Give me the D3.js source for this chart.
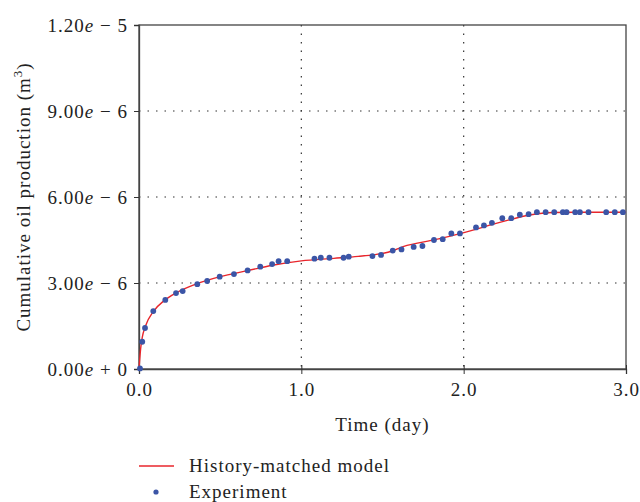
<!DOCTYPE html>
<html>
<head>
<meta charset="utf-8">
<script src="https://cdn.jsdelivr.net/npm/d3@7"></script>
<style>
  body { margin: 0; background: #fff; }
  text { font-family: "Liberation Serif", "DejaVu Serif", serif; fill: #222; letter-spacing: 1px; }
</style>
</head>
<body>
<svg width="640" height="502"></svg>
<script>
// experiment points (time in days, volume in m3 x 1e-6)
var expTime = [0.006, 0.02, 0.037, 0.088, 0.162, 0.228, 0.269, 0.359, 0.42, 0.497, 0.585, 0.669, 0.747, 0.82, 0.86, 0.913,
  1.081, 1.12, 1.173, 1.26, 1.292, 1.438, 1.491, 1.563, 1.617, 1.692, 1.746, 1.817, 1.871, 1.924, 1.977,
  2.076, 2.125, 2.174, 2.238, 2.293, 2.346, 2.40, 2.451, 2.505, 2.558, 2.611, 2.634, 2.687, 2.716, 2.769, 2.878, 2.931, 2.981];
var expVol = [0.02, 0.95, 1.43, 2.02, 2.41, 2.65, 2.72, 2.96, 3.07, 3.22, 3.31, 3.44, 3.57, 3.66, 3.76, 3.76,
  3.85, 3.88, 3.88, 3.88, 3.92, 3.94, 3.98, 4.13, 4.17, 4.26, 4.29, 4.50, 4.53, 4.73, 4.73,
  4.94, 5.01, 5.10, 5.26, 5.26, 5.38, 5.40, 5.47, 5.47, 5.47, 5.47, 5.47, 5.47, 5.47, 5.47, 5.47, 5.47, 5.47];

// history matched model curve
var modelTime = [0, 0.01, 0.02, 0.04, 0.088, 0.16, 0.23, 0.35, 0.5, 0.67, 0.83, 1.0, 1.2, 1.35, 1.45, 1.55,
  1.627, 1.832, 1.996, 2.24, 2.406, 2.55, 2.7, 3.0];
var modelVol = [0, 0.7, 1.1, 1.5, 2.0, 2.41, 2.66, 2.96, 3.22, 3.43, 3.63, 3.77, 3.86, 3.93, 3.99, 4.1,
  4.27, 4.52, 4.75, 5.14, 5.37, 5.46, 5.47, 5.47];

var xTicks = [0, 1, 2, 3];
var xTickLabels = ["0.0", "1.0", "2.0", "3.0"];
var yTicks = [0, 3e-6, 6e-6, 9e-6, 1.2e-5];
var yTickLabels = ["0.00e + 0", "3.00e \u2212 6", "6.00e \u2212 6", "9.00e \u2212 6", "1.20e \u2212 5"];

var svg = d3.select("svg"),
  margin = {top: 25, left: 139, right: 14, bottom: 133},
  width = +svg.attr("width") - margin.left - margin.right,
  height = +svg.attr("height") - margin.top - margin.bottom,
  g = svg.append("g").attr("transform", "translate(" + margin.left + "," + margin.top + ")");

var x = d3.scaleLinear().domain([0, 3]).range([0, width]);
var y = d3.scaleLinear().domain([0, 1.2e-5]).range([height, 0]);

// dotted grid
g.selectAll(".hgrid").data(yTicks.slice(1, 4)).enter().append("line")
  .attr("x1", 0).attr("x2", width)
  .attr("y1", function(d) { return y(d); }).attr("y2", function(d) { return y(d); })
  .attr("stroke", "#333").attr("stroke-width", 1.2).attr("stroke-dasharray", "1.5,7");
g.selectAll(".vgrid").data(xTicks.slice(1, 3)).enter().append("line")
  .attr("y1", 0).attr("y2", height)
  .attr("x1", function(d) { return x(d); }).attr("x2", function(d) { return x(d); })
  .attr("stroke", "#333").attr("stroke-width", 1.2).attr("stroke-dasharray", "1.5,7");

// frame
g.append("rect").attr("width", width).attr("height", height)
  .attr("fill", "none").attr("stroke", "#444").attr("stroke-width", 1.3);

// x axis
var xAxis = g.append("g")
  .attr("transform", "translate(0," + height + ")")
  .call(d3.axisBottom(x).tickValues(xTicks).tickSize(5).tickFormat(function(d, i) { return xTickLabels[i]; }));
xAxis.select(".domain").attr("stroke", "#444").attr("stroke-width", 1.3);
xAxis.selectAll(".tick line").attr("y1", -4).attr("stroke", "#333");
xAxis.selectAll("text").attr("dy", "1.0em").style("font-size", "19px")
  .style("font-family", "Liberation Serif").attr("fill", "#222");

// y axis
var yAxis = g.append("g")
  .call(d3.axisLeft(y).tickValues(yTicks).tickSize(5).tickFormat(""));
yAxis.select(".domain").attr("stroke", "#444").attr("stroke-width", 1.3);
yAxis.selectAll(".tick line").attr("stroke", "#333");
yAxis.selectAll(".tick").append("text")
  .attr("x", -11).attr("dy", "0.35em")
  .attr("text-anchor", "end")
  .style("font-size", "19px")
  .each(function(d, i) {
    var parts = yTickLabels[i].split("e");
    var t = d3.select(this);
    t.append("tspan").text(parts[0]);
    t.append("tspan").style("font-style", "italic").text("e");
    t.append("tspan").text(parts[1]);
  });

// model line
var line = d3.line()
  .x(function(d, i) { return x(modelTime[i]); })
  .y(function(d, i) { return y(modelVol[i] * 1e-6); })
  .curve(d3.curveMonotoneX);
g.append("path").datum(modelTime)
  .attr("fill", "none").attr("stroke", "#e8262c").attr("stroke-width", 1.4)
  .attr("d", line);

// experiment points
g.selectAll(".pt").data(expTime).enter().append("circle")
  .attr("cx", function(d) { return x(d); })
  .attr("cy", function(d, i) { return y(expVol[i] * 1e-6); })
  .attr("r", 2.9)
  .attr("fill", "#3b55a6");

// axis titles
svg.append("text")
  .attr("x", margin.left + width / 2).attr("y", 431)
  .attr("text-anchor", "middle").style("font-size", "19px")
  .text("Time (day)");
var yt = svg.append("text")
  .attr("transform", "translate(30," + (margin.top + height / 2) + ") rotate(-90)")
  .attr("text-anchor", "middle").style("font-size", "19px");
yt.append("tspan").text("Cumulative oil production (m");
yt.append("tspan").attr("dy", -8).style("font-size", "13px").text("3");
yt.append("tspan").attr("dy", 8).text(")");

// legend
var legend = svg.append("g").attr("transform", "translate(139,466)");
legend.append("line").attr("x1", 0).attr("x2", 35).attr("y1", 0).attr("y2", 0)
  .attr("stroke", "#e8262c").attr("stroke-width", 1.4);
legend.append("text").attr("x", 50).attr("y", 6).style("font-size", "19px").text("History-matched model");
legend.append("circle").attr("cx", 17).attr("cy", 26).attr("r", 2.6).attr("fill", "#3b55a6");
legend.append("text").attr("x", 50).attr("y", 32).style("font-size", "19px").text("Experiment");
</script>
</body>
</html>
